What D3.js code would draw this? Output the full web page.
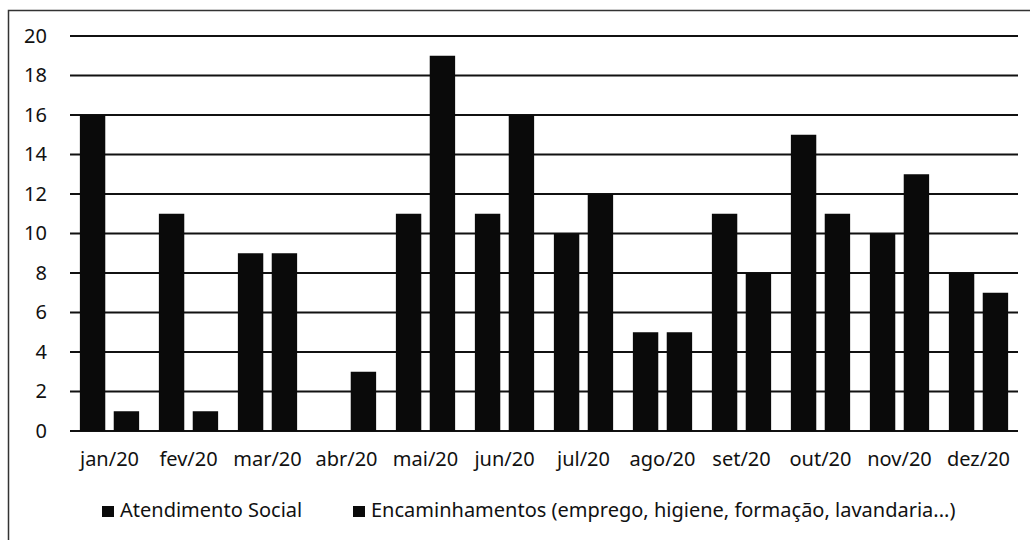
<!DOCTYPE html>
<html><head><meta charset="utf-8">
<script src="https://cdn.jsdelivr.net/npm/d3@7/dist/d3.min.js"></script>
<style>body{margin:0;background:#fff}svg{display:block}</style>
</head><body>
<svg id="c" width="1030" height="540"></svg>
<script>
const categories = ["jan/20","fev/20","mar/20","abr/20","mai/20","jun/20","jul/20","ago/20","set/20","out/20","nov/20","dez/20"];
const seriesNames = ["Atendimento Social","Encaminhamentos (emprego, higiene, formação, lavandaria...)"];
const atendimento = [16,11,9,0,11,11,10,5,11,15,10,8];
const encaminhamentos = [1,1,9,3,19,16,12,5,8,11,13,7];
const yTicks = [0,2,4,6,8,10,12,14,16,18,20];

const svg = d3.select("#c");
const font = "'Noto Sans', 'Open Sans', sans-serif";
svg.append("rect").attr("x",8.5).attr("y",10.5).attr("width",1030).attr("height",540)
  .attr("fill","#fff").attr("stroke","#333").attr("stroke-width",1.5);

const L=70,R=1018,T=36,B=431;
const x = d3.scaleBand().domain(categories).range([L,R]).paddingInner(0.25).paddingOuter(0.125);
const x1 = d3.scaleBand().domain([0,1]).range([0,x.bandwidth()]).paddingInner(0.25);
const y = d3.scaleLinear().domain([0,20]).range([B,T]);

const g = svg.append("g");
g.selectAll("line.grid").data(yTicks).join("line")
  .attr("x1",L).attr("x2",R).attr("y1",d=>y(d)).attr("y2",d=>y(d))
  .attr("stroke","#111").attr("stroke-width",d=>d===0?2.2:1.8);

const data = categories.map((c,i)=>({c,v:[atendimento[i],encaminhamentos[i]]}));
const grp = g.selectAll("g.cat").data(data).join("g").attr("transform",d=>`translate(${x(d.c)},0)`);
grp.selectAll("rect").data(d=>d.v.map((v,k)=>({v,k}))).join("rect")
  .attr("x",d=>x1(d.k)).attr("width",x1.bandwidth())
  .attr("y",d=>y(d.v)).attr("height",d=>y(0)-y(d.v)).attr("fill","#0a0a0a");

const yAxis = d3.axisLeft(y).tickValues(yTicks).tickSize(0).tickPadding(0);
svg.append("g").attr("transform",`translate(47,0)`).call(yAxis)
  .call(s=>s.select(".domain").remove())
  .selectAll("text").attr("font-family",font).attr("font-size",20).attr("fill","#111");

const xAxis = d3.axisBottom(x).tickSize(0).tickPadding(0);
svg.append("g").attr("transform",`translate(0,452)`).call(xAxis)
  .call(s=>s.select(".domain").remove())
  .selectAll("text").attr("font-family",font).attr("font-size",20).attr("fill","#111");

const legX=[102,353];
const leg = svg.append("g").selectAll("g").data(seriesNames).join("g")
  .attr("transform",(d,i)=>`translate(${legX[i]},510)`);
leg.append("rect").attr("x",0).attr("y",-4).attr("width",12).attr("height",11).attr("fill","#0a0a0a");
leg.append("text").attr("x",18).attr("y",0).attr("dy","0.35em").text(d=>d)
  .attr("font-family",font).attr("font-size",20).attr("fill","#111");
</script>
</body></html>
